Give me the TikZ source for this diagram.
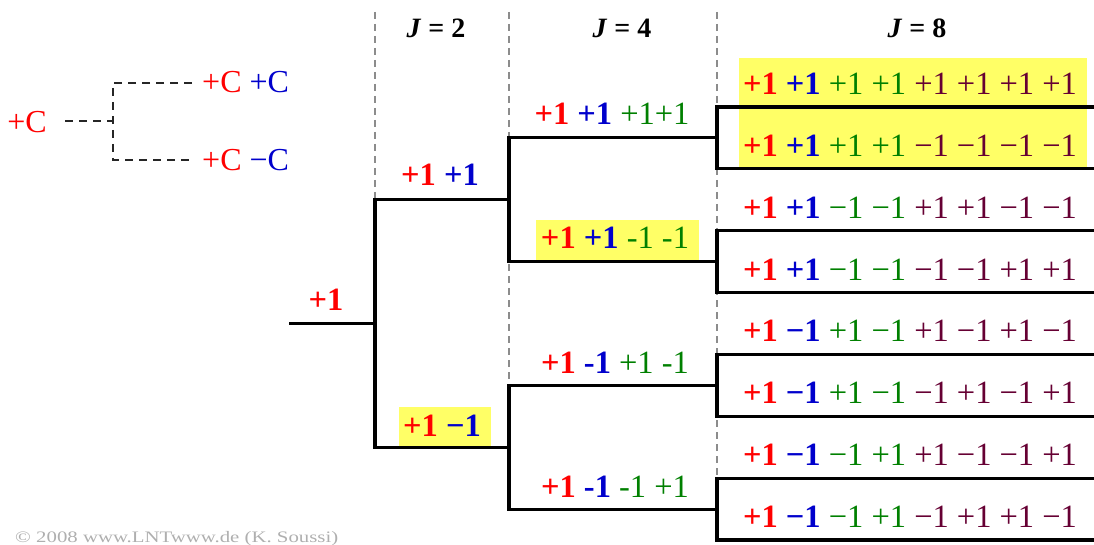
\documentclass[tikz,border=0pt]{standalone}
\usepackage{fontspec}
\setmainfont{Liberation Serif}
\definecolor{cred}{RGB}{255,0,0}
\definecolor{cblue}{RGB}{0,0,204}
\definecolor{cgreen}{RGB}{0,128,0}
\definecolor{cpurp}{RGB}{102,0,51}
\definecolor{hyel}{RGB}{255,255,102}
\definecolor{sepgray}{RGB}{140,140,140}
\definecolor{copygray}{RGB}{175,175,175}
\newcommand{\cR}[1]{\textcolor{cred}{\textbf{#1}}}
\newcommand{\cB}[1]{\textcolor{cblue}{\textbf{#1}}}
\newcommand{\cG}[1]{\textcolor{cgreen}{#1}}
\newcommand{\cP}[1]{\textcolor{cpurp}{#1}}
\tikzset{
  tree/.style={line width=3.2pt, line join=miter, line cap=rect},
  colsep/.style={draw=sepgray, line width=1.1pt, dash pattern=on 7pt off 5pt},
  legdash/.style={draw=black!85, line width=2.3pt, dash pattern=on 8pt off 6pt},
  lab/.style={font=\fontsize{32.5}{32.5}\selectfont, inner sep=0pt, anchor=base},
  hdr/.style={font=\fontsize{28}{28}\selectfont\bfseries, inner sep=0pt, anchor=base},
  hl/.style={fill=hyel, draw=none}
}
\begin{document}
\begin{tikzpicture}[x=1pt,y=-1pt]
\useasboundingbox (0,0) rectangle (1094,545);
% highlights
\fill[hl] (739,58) rectangle (1087,168);
\fill[hl] (536,220) rectangle (699,260);
\fill[hl] (399,407) rectangle (491,446);
% column separators
\coordinate (s1t) at (375,12); \coordinate (s1b) at (375,446);
\coordinate (s2t) at (509,12); \coordinate (s2b) at (509,509);
\coordinate (s3t) at (717,12); \coordinate (s3b) at (717,540);
\draw[colsep] (s1t) -- (s1b);
\draw[colsep] (s2t) -- (s2b);
\draw[colsep] (s3t) -- (s3b);
% headers
\node[hdr] (h2) at (436,38) {\textit{J} = 2};
\node[hdr] (h4) at (622,38) {\textit{J} = 4};
\node[hdr] (h8) at (917,38) {\textit{J} = 8};
% legend
\node[lab, font=\fontsize{32}{32}\selectfont] (lc) at (27,133) {\textcolor{cred}{+C}};
\coordinate (l0) at (65,121);
\coordinate (lj) at (113,121);
\coordinate (lu) at (113,83);
\coordinate (ld) at (113,160);
\coordinate (lue) at (192,83);
\coordinate (lde) at (192,160);
\draw[legdash] (l0) -- (lj);
\draw[legdash] (lue) -- (lu) -- (ld) -- (lde);
\node[lab, font=\fontsize{32}{32}\selectfont, anchor=base west] (lup) at (202,93) {\textcolor{cred}{+C} \textcolor{cblue}{+C}};
\node[lab, font=\fontsize{32}{32}\selectfont, anchor=base west] (ldn) at (202,171) {\textcolor{cred}{+C} \textcolor{cblue}{−C}};
% tree coordinates
\coordinate (r0) at (291,323.5);
\coordinate (r) at (375,323.5);
\coordinate (a1) at (375,199.8);
\coordinate (a2) at (375,447.3);
\coordinate (b1) at (509,199.8);
\coordinate (b2) at (509,447.3);
\coordinate (c1) at (509,137.9);
\coordinate (c2) at (509,261.6);
\coordinate (c3) at (509,385.4);
\coordinate (c4) at (509,509.1);
\coordinate (d1) at (717,137.9);
\coordinate (d2) at (717,261.6);
\coordinate (d3) at (717,385.4);
\coordinate (d4) at (717,509.1);
\foreach \k/\y in {1/107,2/168.9,3/230.7,4/292.6,5/354.4,6/416.3,7/478.2,8/540}{
  \coordinate (e\k) at (717,\y);
  \coordinate (f\k) at (1094,\y);
}
% tree lines
\draw[tree] (r0) -- (r);
\draw[tree] (b1) -- (a1) -- (a2) -- (b2);
\draw[tree] (d1) -- (c1) -- (c2) -- (d2);
\draw[tree] (d3) -- (c3) -- (c4) -- (d4);
\draw[tree] (f1) -- (e1) -- (e2) -- (f2);
\draw[tree] (f3) -- (e3) -- (e4) -- (f4);
\draw[tree] (f5) -- (e5) -- (e6) -- (f6);
\draw[tree] (f7) -- (e7) -- (e8) -- (f8);
% labels J=1,2
\node[lab] (t0) at (326,310) {\cR{+1}};
\node[lab] (t21) at (440,186) {\cR{+1} \cB{+1}};
\node[lab] (t22) at (442,436) {\cR{+1} \cB{−1}};
% labels J=4
\node[lab] (t41) at (612,125) {\cR{+1} \cB{+1} \cG{+1+1}};
\node[lab] (t42) at (615,248) {\cR{+1} \cB{+1} \cG{-1 -1}};
\node[lab] (t43) at (615,373) {\cR{+1} \cB{-1} \cG{+1 -1}};
\node[lab] (t44) at (615,497) {\cR{+1} \cB{-1} \cG{-1 +1}};
% labels J=8
\node[lab] (t81) at (910,94.5) {\cR{+1} \cB{+1} \cG{+1 +1} \cP{+1 +1 +1 +1}};
\node[lab] (t82) at (910,156.4) {\cR{+1} \cB{+1} \cG{+1 +1} \cP{−1 −1 −1 −1}};
\node[lab] (t83) at (910,218.2) {\cR{+1} \cB{+1} \cG{−1 −1} \cP{+1 +1 −1 −1}};
\node[lab] (t84) at (910,280.1) {\cR{+1} \cB{+1} \cG{−1 −1} \cP{−1 −1 +1 +1}};
\node[lab] (t85) at (910,341.9) {\cR{+1} \cB{−1} \cG{+1 −1} \cP{+1 −1 +1 −1}};
\node[lab] (t86) at (910,403.8) {\cR{+1} \cB{−1} \cG{+1 −1} \cP{−1 +1 −1 +1}};
\node[lab] (t87) at (910,465.7) {\cR{+1} \cB{−1} \cG{−1 +1} \cP{+1 −1 −1 +1}};
\node[lab] (t88) at (910,527.5) {\cR{+1} \cB{−1} \cG{−1 +1} \cP{−1 +1 +1 −1}};
% copyright
\node[inner sep=0pt, anchor=base west, text=copygray] (copy) at (15,542) {\scalebox{1.3}[1]{\fontsize{16}{16}\selectfont © 2008 www.LNTwww.de (K. Soussi)}};
\end{tikzpicture}
\end{document}
